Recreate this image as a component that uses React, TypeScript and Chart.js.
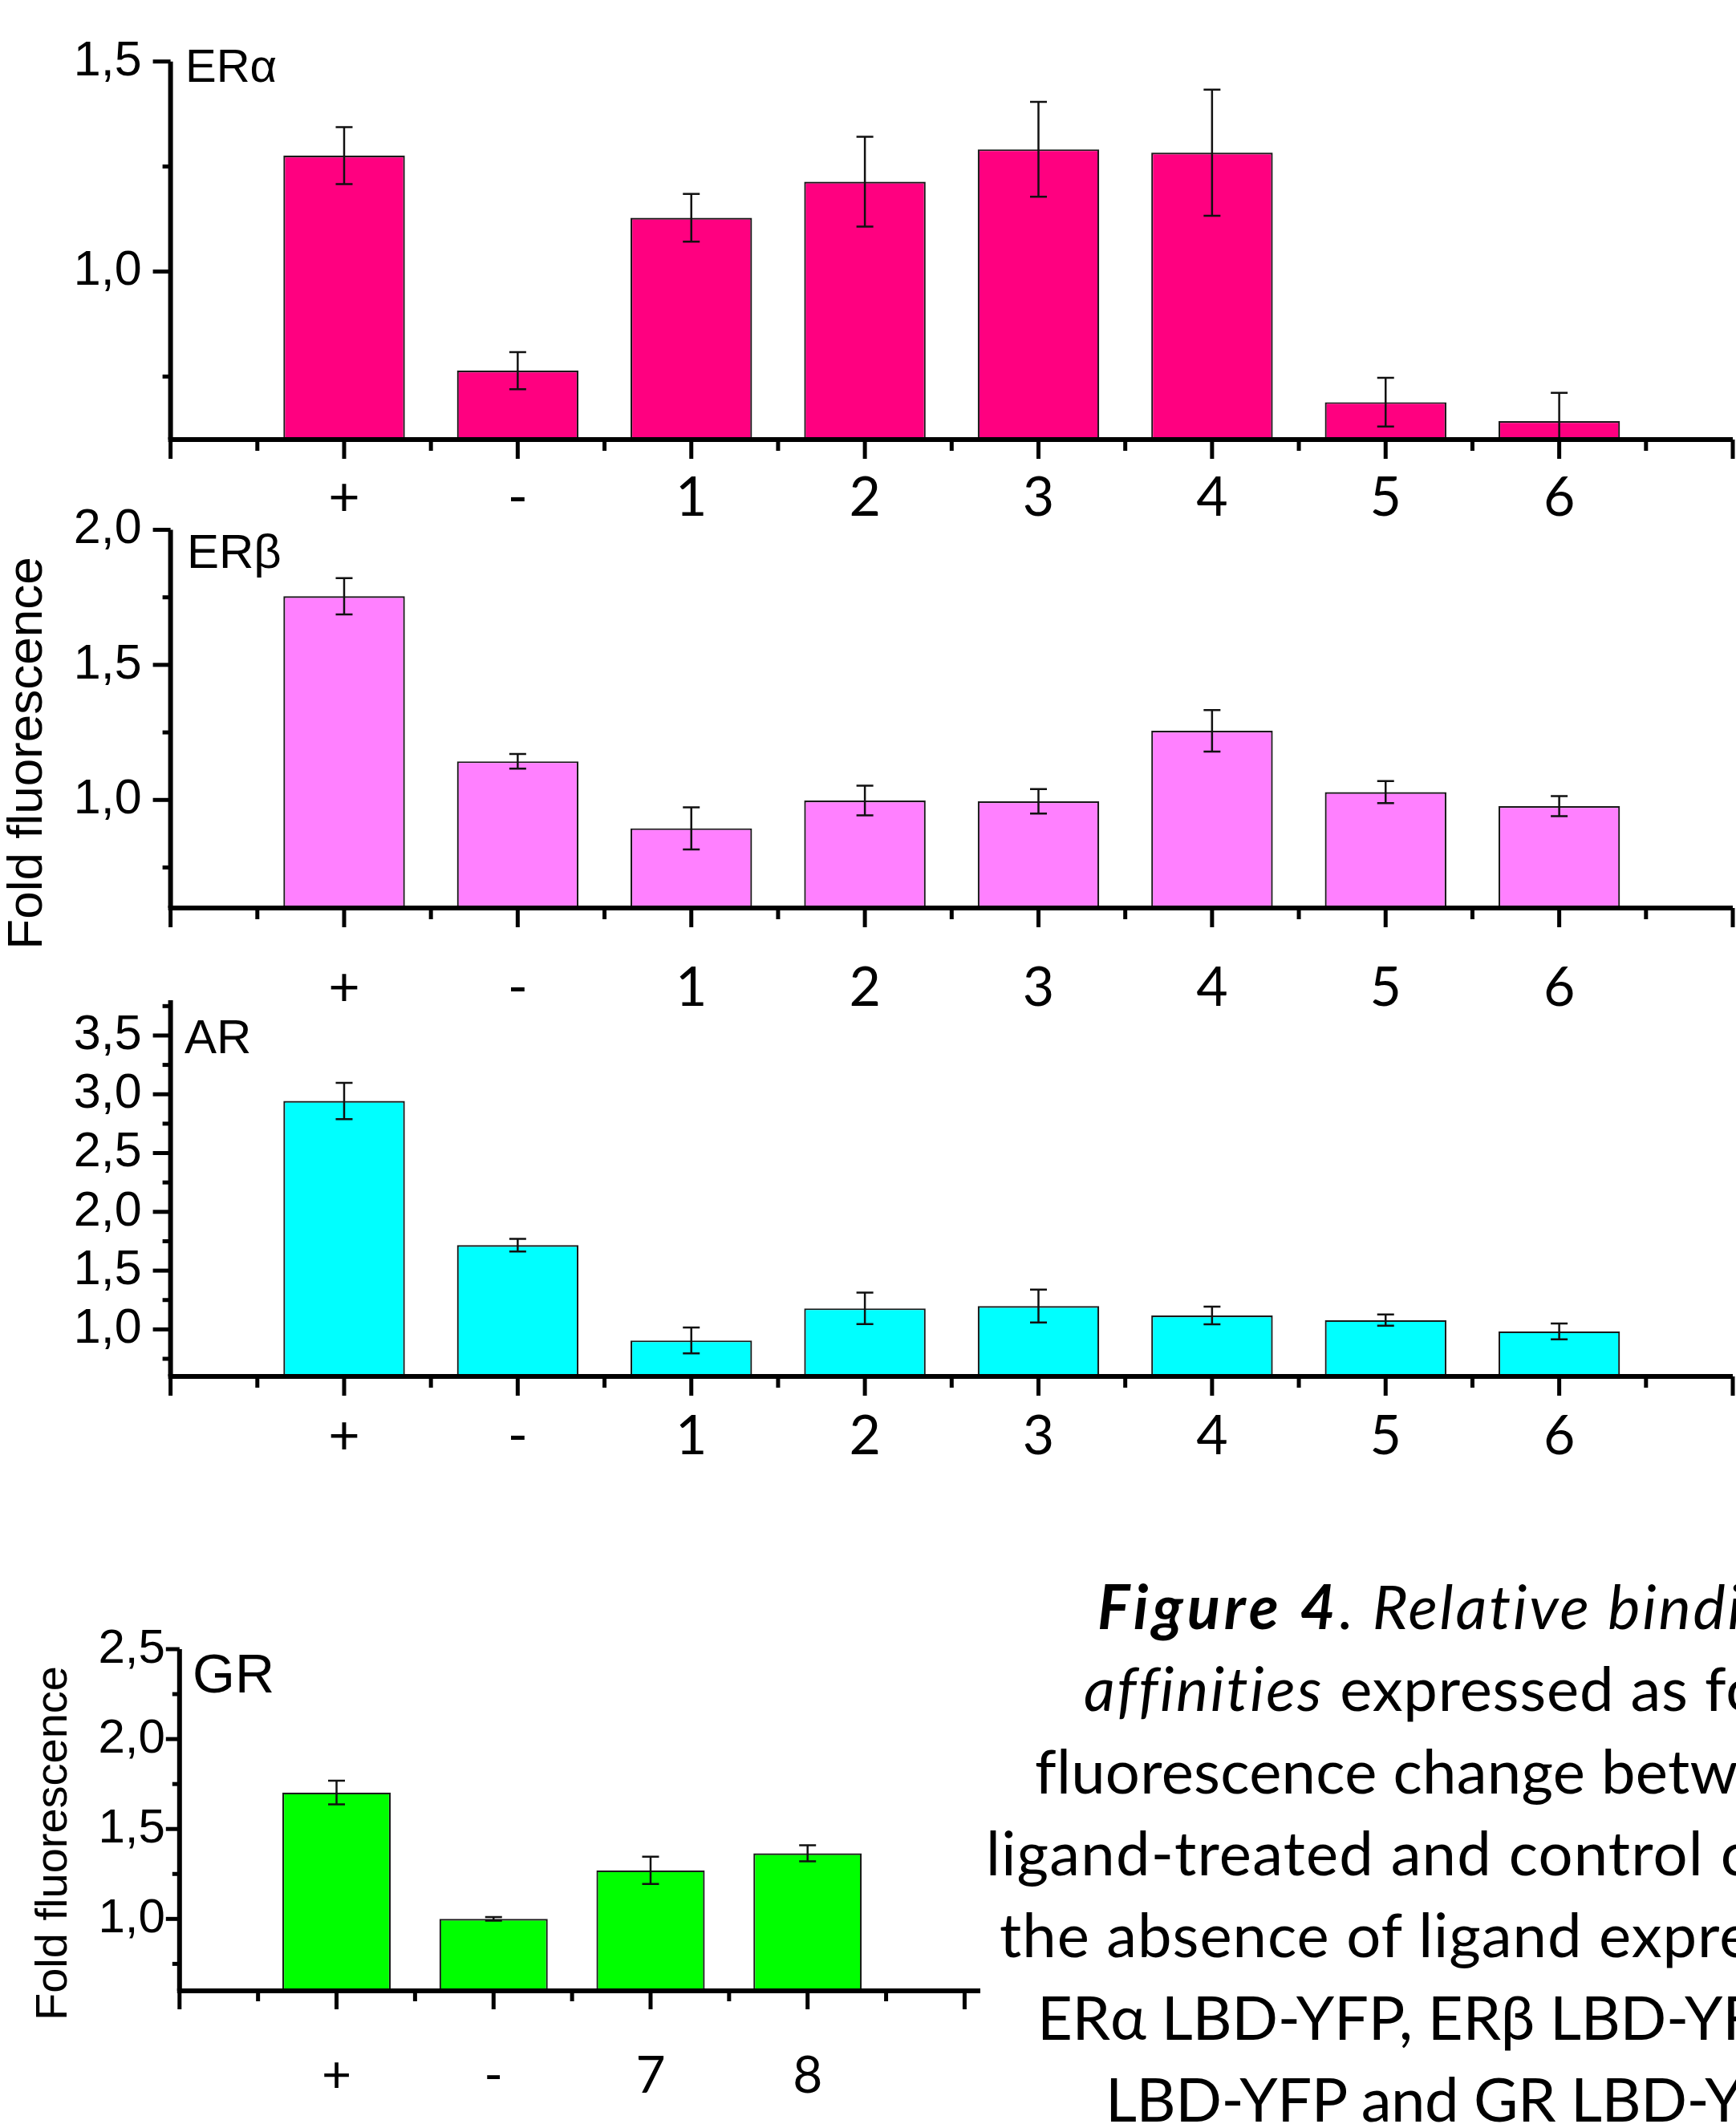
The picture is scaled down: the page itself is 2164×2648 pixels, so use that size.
import React, { useEffect, useRef } from 'react';
import { Chart, registerables } from 'chart.js';

Chart.register(...registerables);

// ---------------- data ----------------
const mainCategories = ['+', '-', '1', '2', '3', '4', '5', '6'];
const grCategories = ['+', '-', '7', '8'];

const erAlphaValues = [1.276, 0.764, 1.128, 1.214, 1.291, 1.283, 0.689, 0.644];
const erAlphaErrors = [0.068, 0.044, 0.057, 0.107, 0.113, 0.15, 0.058, 0.067];

const erBetaValues = [1.754, 1.143, 0.895, 0.998, 0.995, 1.256, 1.029, 0.977];
const erBetaErrors = [0.067, 0.027, 0.078, 0.055, 0.045, 0.077, 0.041, 0.037];

const arValues = [2.943, 1.717, 0.906, 1.179, 1.198, 1.119, 1.079, 0.983];
const arErrors = [0.155, 0.054, 0.11, 0.134, 0.14, 0.075, 0.048, 0.068];

const grValues = [1.703, 1.0, 1.27, 1.365];
const grErrors = [0.066, 0.01, 0.076, 0.045];

const erAlphaTicks = [1.0, 1.5];
const erBetaTicks = [1.0, 1.5, 2.0];
const arTicks = [1.0, 1.5, 2.0, 2.5, 3.0, 3.5];
const grTicks = [1.0, 1.5, 2.0, 2.5];

const yAxisTitle = 'Fold fluorescence';

// ---------------- styles ----------------
const ARIAL = '"Liberation Sans", Arial, sans-serif';
const CALIBRI = 'Lato, "Open Sans", sans-serif';

type Panel = {
  id: string;
  title: string;
  categories: string[];
  values: number[];
  errors: number[];
  yTicks: number[];
  color: string;
  yMin: number;
  yMax: number;
  xMax: number;
  top: number;
  height: number;
  width: number;
  left: number;
  right: number;
  areaTop: number;
  areaBottom: number;
  titleX: number;
  titleBaseline: number;
  titleSize: number;
  yFontSize: number;
  yPad: number;
  xFontSize: number;
  xPad: number;
  yMajorLen: number;
  yMinorLen: number;
  xMajorLen: number;
  xMinorLen: number;
  barPct: number;
};

const panels: Panel[] = [
  {
    id: 'era', title: 'ERα', categories: mainCategories, values: erAlphaValues, errors: erAlphaErrors,
    yTicks: erAlphaTicks, color: '#FF0080', yMin: 0.6, yMax: 1.5, xMax: 8,
    top: 0, height: 700, width: 2164, left: 212.6, right: 2160, areaTop: 76.7, areaBottom: 548,
    titleX: 231, titleBaseline: 101.5, titleSize: 58,
    yFontSize: 61, yPad: 36, xFontSize: 68, xPad: 39,
    yMajorLen: 22, yMinorLen: 10, xMajorLen: 24, xMinorLen: 14, barPct: 0.7,
  },
  {
    id: 'erb', title: 'ERβ', categories: mainCategories, values: erBetaValues, errors: erBetaErrors,
    yTicks: erBetaTicks, color: '#FF80FF', yMin: 0.6, yMax: 2.0, xMax: 8,
    top: 600, height: 720, width: 2164, left: 212.6, right: 2160, areaTop: 660.5, areaBottom: 1132,
    titleX: 233, titleBaseline: 708, titleSize: 60,
    yFontSize: 61, yPad: 36, xFontSize: 68, xPad: 66,
    yMajorLen: 22, yMinorLen: 10, xMajorLen: 24, xMinorLen: 14, barPct: 0.7,
  },
  {
    id: 'ar', title: 'AR', categories: mainCategories, values: arValues, errors: arErrors,
    yTicks: arTicks, color: '#00FFFF', yMin: 0.6, yMax: 3.8, xMax: 8,
    top: 1180, height: 700, width: 2164, left: 212.6, right: 2160, areaTop: 1247, areaBottom: 1716,
    titleX: 230, titleBaseline: 1313, titleSize: 60,
    yFontSize: 61, yPad: 36, xFontSize: 68, xPad: 41.5,
    yMajorLen: 22, yMinorLen: 10, xMajorLen: 24, xMinorLen: 14, barPct: 0.7,
  },
  {
    id: 'gr', title: 'GR', categories: grCategories, values: grValues, errors: grErrors,
    yTicks: grTicks, color: '#00FF00', yMin: 0.6, yMax: 2.5, xMax: 4.1,
    top: 1950, height: 698, width: 1300, left: 223.8, right: 1222, areaTop: 2056, areaBottom: 2482,
    titleX: 240, titleBaseline: 2109.6, titleSize: 68,
    yFontSize: 60, yPad: 18, xFontSize: 64, xPad: 74.5,
    yMajorLen: 17, yMinorLen: 9, xMajorLen: 23, xMinorLen: 13, barPct: 0.69,
  },
];

// ---------------- plugins ----------------
function makeAxesPlugin(p: Panel) {
  return {
    id: 'originAxes',
    afterDraw(chart: any) {
      const { ctx, chartArea: a } = chart;
      const xs = chart.scales.x;
      const ys = chart.scales.y;
      ctx.save();
      ctx.strokeStyle = '#000';
      ctx.lineCap = 'butt';
      ctx.lineWidth = 6;
      ctx.beginPath();
      ctx.moveTo(a.left, a.top);
      ctx.lineTo(a.left, a.bottom);
      ctx.stroke();
      ctx.beginPath();
      ctx.moveTo(a.left - 3, a.bottom);
      ctx.lineTo(a.right, a.bottom);
      ctx.stroke();
      ctx.lineWidth = 5;
      const step = 0.25;
      for (let k = Math.ceil(ys.min / step - 1e-9); k * step <= ys.max + 1e-9; k++) {
        const major = k % 2 === 0;
        const len = major ? p.yMajorLen : p.yMinorLen;
        const py = ys.getPixelForValue(k * step);
        ctx.beginPath();
        ctx.moveTo(a.left, py);
        ctx.lineTo(a.left - len, py);
        ctx.stroke();
      }
      for (let k = Math.ceil(xs.min * 2 - 1e-9); k / 2 <= xs.max + 1e-9; k++) {
        const major = k % 2 === 0;
        const len = major ? p.xMajorLen : p.xMinorLen;
        const px = xs.getPixelForValue(k / 2);
        ctx.beginPath();
        ctx.moveTo(px, a.bottom);
        ctx.lineTo(px, a.bottom + len);
        ctx.stroke();
      }
      ctx.restore();
    },
  };
}

function makeErrorBarPlugin(p: Panel) {
  return {
    id: 'errorBars',
    afterDatasetsDraw(chart: any) {
      const { ctx, chartArea: a } = chart;
      const ys = chart.scales.y;
      const meta = chart.getDatasetMeta(0);
      ctx.save();
      ctx.beginPath();
      ctx.rect(a.left, a.top - 30, a.right - a.left, a.bottom - a.top + 30);
      ctx.clip();
      ctx.strokeStyle = '#111';
      ctx.lineWidth = 2.5;
      const cap = 10.5;
      meta.data.forEach((el: any, i: number) => {
        const v = p.values[i];
        const e = p.errors[i];
        const x = el.x;
        const y1 = ys.getPixelForValue(v + e);
        const y2 = ys.getPixelForValue(v - e);
        ctx.beginPath();
        ctx.moveTo(x, y1);
        ctx.lineTo(x, y2);
        ctx.moveTo(x - cap, y1);
        ctx.lineTo(x + cap, y1);
        ctx.moveTo(x - cap, y2);
        ctx.lineTo(x + cap, y2);
        ctx.stroke();
      });
      ctx.restore();
    },
  };
}

function makeTitlePlugin(p: Panel) {
  return {
    id: 'panelTitle',
    afterDraw(chart: any) {
      const ctx = chart.ctx;
      ctx.save();
      ctx.font = `${p.titleSize}px ${ARIAL}`;
      ctx.fillStyle = '#000';
      ctx.textBaseline = 'alphabetic';
      ctx.textAlign = 'left';
      ctx.fillText(p.title, p.titleX, p.titleBaseline - p.top);
      ctx.restore();
    },
  };
}

// ---------------- components ----------------
function PanelChart({ p }: { p: Panel }) {
  const ref = useRef<HTMLCanvasElement>(null);
  useEffect(() => {
    const canvas = ref.current;
    if (!canvas) return;
    const chart = new Chart(canvas, {
      type: 'bar',
      data: {
        datasets: [
          {
            data: p.values.map((v, i) => ({ x: i, y: v })),
            backgroundColor: p.color,
            borderColor: '#1a1a1a',
            borderWidth: 2.2,
            barPercentage: p.barPct,
            categoryPercentage: 1,
            base: p.yMin,
          } as any,
        ],
      },
      options: {
        animation: false,
        responsive: false,
        maintainAspectRatio: false,
        devicePixelRatio: 1,
        layout: {
          padding: { left: 0, right: p.width - p.right, top: p.areaTop - p.top, bottom: 0 },
        },
        plugins: {
          legend: { display: false },
          tooltip: { enabled: false },
          title: { display: false },
        },
        scales: {
          x: {
            type: 'linear',
            min: -1,
            max: p.xMax,
            offset: false,
            grid: { display: false, drawTicks: false, tickLength: 0 },
            border: { display: false },
            afterBuildTicks: (s: any) => {
              s.ticks = p.categories.map((_, i) => ({ value: i }));
            },
            afterFit: (s: any) => {
              s.height = p.top + p.height - p.areaBottom;
              s.paddingLeft = 0;
              s.paddingRight = 0;
            },
            ticks: {
              autoSkip: false,
              maxRotation: 0,
              minRotation: 0,
              padding: p.xPad,
              color: '#000',
              font: { family: CALIBRI, size: p.xFontSize, lineHeight: 1 },
              callback: (v: any) => p.categories[Math.round(Number(v))] ?? '',
            },
          },
          y: {
            type: 'linear',
            min: p.yMin,
            max: p.yMax,
            grid: { display: false, drawTicks: false, tickLength: 0 },
            border: { display: false },
            afterBuildTicks: (s: any) => {
              s.ticks = p.yTicks.map((v) => ({ value: v }));
            },
            afterFit: (s: any) => {
              s.width = p.left;
              s.paddingTop = 0;
              s.paddingBottom = 0;
            },
            ticks: {
              autoSkip: false,
              padding: p.yPad,
              color: '#000',
              font: { family: ARIAL, size: p.yFontSize, lineHeight: 1 },
              callback: (v: any) => Number(v).toFixed(1).replace('.', ','),
            },
          },
        },
      } as any,
      plugins: [makeErrorBarPlugin(p), makeAxesPlugin(p), makeTitlePlugin(p)],
    });
    return () => chart.destroy();
  }, [p]);
  return (
    <canvas
      ref={ref}
      width={p.width}
      height={p.height}
      style={{ position: 'absolute', left: 0, top: p.top, width: p.width, height: p.height }}
    />
  );
}

type Run = { t: string; w?: number; i?: boolean; ls?: number };
const captionLines: { x: number; baseline: number; ls: number; runs: Run[] }[] = [
  { x: 1368, baseline: 2031, ls: 0, runs: [{ t: 'Figure 4', w: 700, i: true, ls: 5 }, { t: '. Relative binding', i: true, ls: 2.8 }] },
  { x: 1351, baseline: 2133, ls: 0.8, runs: [{ t: 'affinities', i: true, ls: 2.5 }, { t: ' expressed as fold' }] },
  { x: 1290, baseline: 2236, ls: 0.3, runs: [{ t: 'fluorescence change between' }] },
  { x: 1229, baseline: 2338, ls: 1.2, runs: [{ t: 'ligand-treated and control cells in' }] },
  { x: 1246, baseline: 2440, ls: 1.0, runs: [{ t: 'the absence of ligand expressing' }] },
  { x: 1293, baseline: 2543, ls: -0.3, runs: [{ t: 'ERα LBD-YFP, ERβ LBD-YFP, AR' }] },
  { x: 1378, baseline: 2645, ls: -0.5, runs: [{ t: 'LBD-YFP and GR LBD-YFP.' }] },
];
const CAP_SIZE = 76;

function RotatedLabel({ cx, cy, size }: { cx: number; cy: number; size: number }) {
  const w = 700;
  return (
    <div
      style={{
        position: 'absolute',
        left: cx - w / 2,
        top: cy - size / 2,
        width: w,
        height: size,
        lineHeight: `${size}px`,
        fontSize: size,
        fontFamily: ARIAL,
        color: '#000',
        textAlign: 'center',
        whiteSpace: 'nowrap',
        transform: 'rotate(-90deg)',
        transformOrigin: '50% 50%',
      }}
    >
      {yAxisTitle}
    </div>
  );
}

export default function App() {
  return (
    <div
      style={{
        position: 'absolute',
        left: 0,
        top: 0,
        width: 2164,
        height: 2648,
        overflow: 'hidden',
        background: '#fff',
      }}
    >
      {panels.map((p) => (
        <PanelChart key={p.id} p={p} />
      ))}
      <RotatedLabel cx={31} cy={939} size={62} />
      <RotatedLabel cx={63.5} cy={2298} size={56} />
      {captionLines.map((line, idx) => (
        <div
          key={idx}
          style={{
            position: 'absolute',
            left: line.x,
            top: line.baseline - CAP_SIZE * 0.887,
            fontFamily: CALIBRI,
            fontSize: CAP_SIZE,
            lineHeight: `${CAP_SIZE}px`,
            whiteSpace: 'nowrap',
            color: '#000',
            fontVariantLigatures: 'none',
            letterSpacing: line.ls,
          }}
        >
          {line.runs.map((r, j) => (
            <span
              key={j}
              style={{
                fontStyle: r.i ? 'italic' : 'normal',
                fontWeight: r.w ?? 400,
                letterSpacing: r.ls ?? line.ls,
              }}
            >
              {r.t}
            </span>
          ))}
        </div>
      ))}
    </div>
  );
}
